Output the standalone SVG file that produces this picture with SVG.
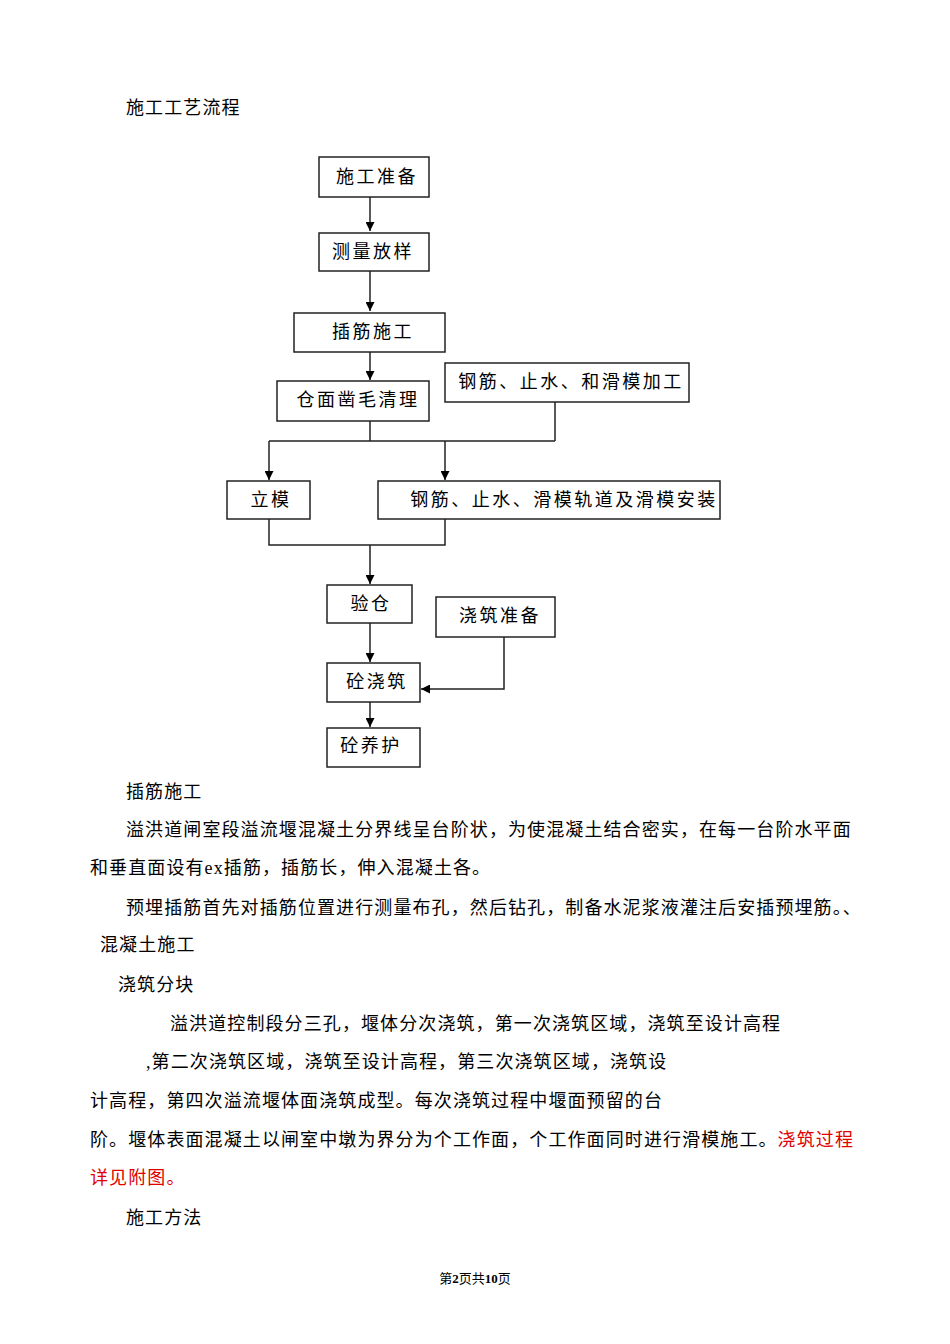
<svg xmlns="http://www.w3.org/2000/svg" width="950" height="1344" viewBox="0 0 950 1344">
<style>
text{font-family:"Liberation Serif","Noto Sans CJK SC",serif;fill:#000}
.t{font-size:18px;letter-spacing:1.1px}
.n{font-size:18px;text-anchor:middle;letter-spacing:2.5px}
.b{fill:#fff;stroke:#222;stroke-width:1.5}
.c{fill:none;stroke:#222;stroke-width:1.5}
.r{fill:#e00000}
</style>
<defs><marker id="a" viewBox="0 0 10 10" refX="10" refY="5" markerWidth="10" markerHeight="9" orient="auto" markerUnits="userSpaceOnUse"><path d="M0,0L10,5L0,10z" fill="#000"/></marker></defs>
<rect width="950" height="1344" fill="#fff"/>
<text class="t" x="126" y="114">施工工艺流程</text>
<g id="connectors">
<path class="c" d="M370,197V231" marker-end="url(#a)"/>
<path class="c" d="M370,271V311" marker-end="url(#a)"/>
<path class="c" d="M370,352V380" marker-end="url(#a)"/>
<path class="c" d="M370,421V441M555,402V441M269,441H555"/>
<path class="c" d="M269,441V480" marker-end="url(#a)"/>
<path class="c" d="M445,441V480" marker-end="url(#a)"/>
<path class="c" d="M269,519V545H445V519M370,545V584" marker-end="url(#a)"/>
<path class="c" d="M370,623V662" marker-end="url(#a)"/>
<path class="c" d="M504,637V689H421" marker-end="url(#a)"/>
<path class="c" d="M370,702V727" marker-end="url(#a)"/>
</g>
<g id="n1"><rect class="b" x="319" y="157" width="110" height="40"/><text class="n" x="377" y="183">施工准备</text></g>
<g id="n2"><rect class="b" x="319" y="233" width="110" height="38"/><text class="n" x="373" y="258">测量放样</text></g>
<g id="n3"><rect class="b" x="294" y="313" width="151" height="39"/><text class="n" x="373" y="338">插筋施工</text></g>
<g id="n4"><rect class="b" x="277" y="381" width="152" height="40"/><text class="n" x="358" y="406">仓面凿毛清理</text></g>
<g id="n5"><rect class="b" x="445" y="363" width="244" height="39"/><text class="n" x="571" y="388">钢筋、止水、和滑模加工</text></g>
<g id="n6"><rect class="b" x="227" y="481" width="83" height="38"/><text class="n" x="271" y="506">立模</text></g>
<g id="n7"><rect class="b" x="378" y="481" width="342" height="38"/><text class="n" x="564" y="506">钢筋、止水、滑模轨道及滑模安装</text></g>
<g id="n8"><rect class="b" x="327" y="585" width="85" height="38"/><text class="n" x="371" y="610">验仓</text></g>
<g id="n9"><rect class="b" x="436" y="597" width="119" height="40"/><text class="n" x="500" y="622">浇筑准备</text></g>
<g id="n10"><rect class="b" x="327" y="663" width="93" height="39"/><text class="n" x="377" y="688">砼浇筑</text></g>
<g id="n11"><rect class="b" x="327" y="728" width="93" height="39"/><text class="n" x="371" y="752">砼养护</text></g>
<text class="t" x="126" y="798">插筋施工</text>
<text class="t" x="126" y="836">溢洪道闸室段溢流堰混凝土分界线呈台阶状，为使混凝土结合密实，在每一台阶水平面</text>
<text class="t" x="90" y="874">和垂直面设有ex插筋，插筋长，伸入混凝土各。</text>
<text class="t" x="126" y="914">预埋插筋首先对插筋位置进行测量布孔，然后钻孔，制备水泥浆液灌注后安插预埋筋。、</text>
<text class="t" x="100" y="951">混凝土施工</text>
<text class="t" x="118" y="991">浇筑分块</text>
<text class="t" x="170" y="1030">溢洪道控制段分三孔，堰体分次浇筑，第一次浇筑区域，浇筑至设计高程</text>
<text class="t" x="146" y="1068">,第二次浇筑区域，浇筑至设计高程，第三次浇筑区域，浇筑设</text>
<text class="t" x="90" y="1107">计高程，第四次溢流堰体面浇筑成型。每次浇筑过程中堰面预留的台</text>
<text class="t" x="90" y="1146">阶。堰体表面混凝土以闸室中墩为界分为个工作面，个工作面同时进行滑模施工。<tspan class="r">浇筑过程</tspan></text>
<text class="t r" x="90" y="1184">详见附图。</text>
<text class="t" x="126" y="1224">施工方法</text>
<text x="475" y="1283" style="font-size:13px;text-anchor:middle">第<tspan font-weight="bold">2</tspan>页共<tspan font-weight="bold">10</tspan>页</text>
</svg>
